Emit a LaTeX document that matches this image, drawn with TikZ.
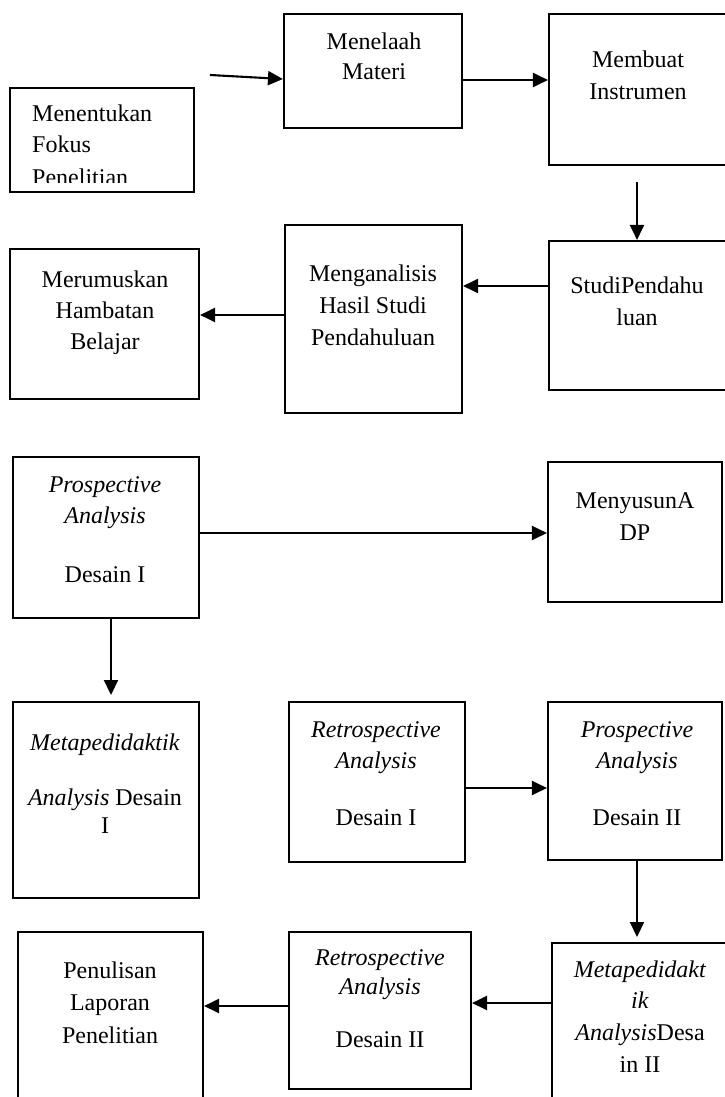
\documentclass[tikz,border=0pt]{standalone}
\usepackage{fontspec}
\setmainfont{Liberation Serif}
\usetikzlibrary{arrows.meta}
\newcommand\mybox[5]{\node[box, minimum width={#4-#2}, minimum height={#5-#3}] (#1) at ({(#2+#4)/2},{(#3+#5)/2}) {};}
\begin{document}
\begin{tikzpicture}[x=1pt,y=-1pt,
  box/.style={draw, line width=2.1pt, inner sep=0pt},
  txt/.style={anchor=base, inner sep=0pt, font=\fontsize{24}{28}\selectfont},
  arr/.style={line width=2.1pt, -{Triangle[length=15pt,width=14pt]}}]
\useasboundingbox (0,0) rectangle (724,1097);
% boxes
\mybox{fokus}{10}{88}{194}{192}
\mybox{telaah}{284}{14}{462}{128}
\mybox{instr}{549}{14}{732}{165}
\mybox{studi}{549}{241}{732}{390}
\mybox{analisis}{285}{225}{462}{413}
\mybox{rumus}{10}{249}{199}{399}
\mybox{prospa}{13}{457}{199}{618}
\mybox{adp}{548}{462}{722}{602}
\mybox{metaa}{13}{702}{199}{898}
\mybox{retroa}{289}{702}{465}{862}
\mybox{prospb}{548}{702}{722}{860}
\mybox{metab}{552}{943}{732}{1110}
\mybox{retrob}{289}{932}{471}{1089}
\mybox{tulis}{18}{932}{203}{1110}
% texts
\begin{scope}
\clip (11,89) rectangle (193,182);
\node[txt, anchor=base west] (tf1) at (32,122) {Menentukan};
\node[txt, anchor=base west] (tf2) at (32,153) {Fokus};
\node[txt, anchor=base west] (tf3) at (32,185) {Penelitian};
\end{scope}
\node[txt] (tt1) at (374,50) {Menelaah};
\node[txt] (tt2) at (374,80) {Materi};
\node[txt] (ti1) at (638,68) {Membuat};
\node[txt] (ti2) at (638,100) {Instrumen};
\node[txt] (ts1) at (637,293) {StudiPendahu};
\node[txt] (ts2) at (637,325) {luan};
\node[txt] (ta1) at (373,281) {Menganalisis};
\node[txt] (ta2) at (373,313) {Hasil Studi};
\node[txt] (ta3) at (373,345) {Pendahuluan};
\node[txt] (tr1) at (105,287) {Merumuskan};
\node[txt] (tr2) at (105,318) {Hambatan};
\node[txt] (tr3) at (105,349) {Belajar};
\node[txt] (tp1) at (105,492) {\textit{Prospective}};
\node[txt] (tp2) at (105,523) {\textit{Analysis}};
\node[txt] (tp3) at (105,582) {Desain I};
\node[txt] (td1) at (635,508) {MenyusunA};
\node[txt] (td2) at (635,540) {DP};
\node[txt] (tm1) at (105,750) {\textit{Metapedidaktik}};
\node[txt] (tm2) at (105,805) {\textit{Analysis} Desain};
\node[txt] (tm3) at (105,833) {I};
\node[txt] (tra1) at (376,737) {\textit{Retrospective}};
\node[txt] (tra2) at (376,768) {\textit{Analysis}};
\node[txt] (tra3) at (376,825) {Desain I};
\node[txt] (tpb1) at (637,737) {\textit{Prospective}};
\node[txt] (tpb2) at (637,768) {\textit{Analysis}};
\node[txt] (tpb3) at (637,825) {Desain II};
\node[txt] (tmb1) at (640,977) {\textit{Metapedidakt}};
\node[txt] (tmb2) at (640,1008) {\textit{ik}};
\node[txt] (tmb3) at (640,1040) {\textit{Analysis}Desa};
\node[txt] (tmb4) at (640,1072) {in II};
\node[txt] (trb1) at (380,965) {\textit{Retrospective}};
\node[txt] (trb2) at (380,994) {\textit{Analysis}};
\node[txt] (trb3) at (380,1047) {Desain II};
\node[txt] (tl1) at (110,978) {Penulisan};
\node[txt] (tl2) at (110,1010) {Laporan};
\node[txt] (tl3) at (110,1043) {Penelitian};
% connectors
\coordinate (s1) at (210,75);
\draw[arr] (s1) -- (telaah.west |- 0,79);
\draw[arr] (telaah.east |- 0,80) -- (instr.west |- 0,80);
\coordinate (s2) at (637,182);
\draw[arr] (s2) -- (s2 |- studi.north);
\draw[arr] (studi.west |- 0,286) -- (analisis.east |- 0,286);
\draw[arr] (analisis.west |- 0,315) -- (rumus.east |- 0,315);
\draw[arr] (prospa.east |- 0,533) -- (adp.west |- 0,533);
\coordinate (e3) at (111,695);
\draw[arr] (prospa.south -| e3) -- (e3);
\draw[arr] (retroa.east |- 0,788) -- (prospb.west |- 0,788);
\coordinate (e4) at (637,937);
\draw[arr] (prospb.south -| e4) -- (e4);
\draw[arr] (metab.west |- 0,1003) -- (retrob.east |- 0,1003);
\draw[arr] (retrob.west |- 0,1006) -- (tulis.east |- 0,1006);
\end{tikzpicture}
\end{document}
